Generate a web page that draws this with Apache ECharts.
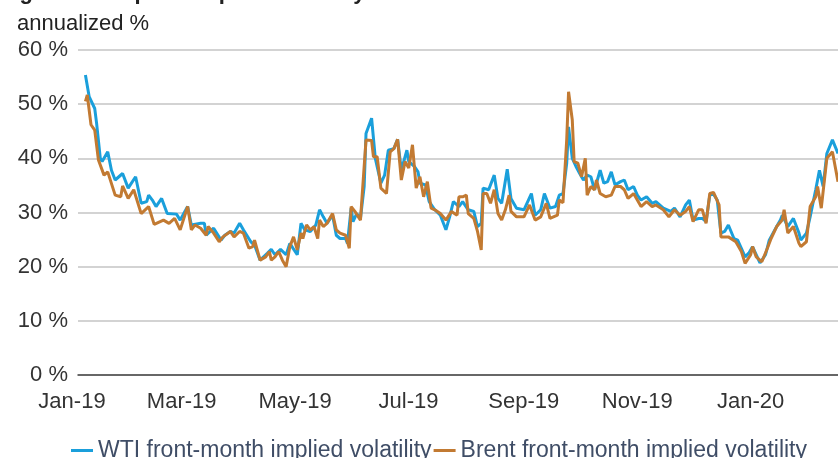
<!DOCTYPE html>
<html>
<head>
<meta charset="utf-8">
<script src="https://cdn.jsdelivr.net/npm/echarts@6/dist/echarts.min.js"></script>
<style>
html,body{margin:0;padding:0;background:#fff;}
#chart{width:838px;height:458px;}
</style>
</head>
<body>
<div id="chart"></div>
<script>
// Days are counted from 2019-01-01
const wtiDays = [7,9,12,13,15,16,19,21,23,27,
 30,34,37,40,41,43,45,48,51,56,
 58,62,64,69,71,72,76,80,82,85,
 87,90,92,96,98,101,105,107,109,112,
 115,117,121,123,125,128,131,133,135,137,
 140,142,144,147,148,150,151,153,155,157,
 158,161,163,166,168,170,173,175,177,180,
 181,184,186,187,190,192,195,198,201,203,
 205,208,210,213,216,218,220,221,224,227,
 229,231,234,236,239,243,247,249,252,254,
 257,260,262,264,266,267,269,271,273,275,
 277,279,281,284,286,288,290,292,295,297,
 299,302,304,306,309,312,314,318,322,324,
 327,330,332,334,337,339,341,343,345,347,
 349,351,353,356,358,360,362,364,366,370,
 373,375,379,381,382,385,388,391,392,395,
 397,400,402,404,406,409,412];
const wtiValues = [55.4,51.4,49.2,46.5,40.0,39.4,41.2,37.8,36.0,37.2,
 34.5,36.6,31.7,32.0,33.2,32.3,31.1,32.6,29.8,29.7,
 28.6,31.1,27.7,28.0,28.0,25.8,27.1,24.9,25.8,26.5,
 26.2,28.0,26.8,24.6,24.0,21.2,22.5,23.2,22.2,23.2,
 22.2,24.3,22.2,28.0,26.8,26.5,27.7,30.5,29.2,28.0,
 29.5,25.8,25.2,25.2,24.3,30.8,28.3,29.8,28.9,34.8,
 44.6,47.4,40.0,35.4,36.9,41.5,41.8,43.5,37.8,41.5,
 39.4,38.5,37.5,35.4,35.1,32.0,30.5,29.5,26.8,29.2,
 32.0,31.1,32.0,30.5,30.2,27.4,28.0,34.5,34.2,36.9,
 32.6,31.7,38.0,32.6,30.8,30.5,33.5,29.5,30.5,33.5,
 30.8,31.1,33.2,33.5,39.1,45.8,40.0,38.5,37.2,36.0,
 36.9,36.6,34.2,37.8,35.4,35.7,37.5,35.1,35.7,36.0,
 34.2,34.8,33.2,32.3,32.9,31.7,32.0,30.8,30.2,30.8,
 29.2,31.4,32.3,28.6,28.9,28.9,28.3,33.2,33.4,32.3,
 26.2,26.5,27.7,25.2,24.9,23.4,21.8,22.5,23.7,20.7,
 22.2,24.9,27.4,28.6,29.5,27.4,28.9,26.2,24.9,26.2,
 29.2,34.2,37.8,34.8,40.9,43.4,40.9];
const brentDays = [7,8,10,12,14,17,19,23,26,27,
 30,33,37,41,44,49,52,55,58,62,
 64,66,69,72,73,76,79,81,85,87,
 90,92,95,97,98,101,104,106,107,109,
 111,113,115,117,119,121,123,124,126,128,
 130,132,133,135,137,140,142,144,147,149,
 150,152,155,158,161,162,164,166,169,171,
 173,175,177,179,181,183,185,187,189,191,
 193,195,198,201,204,207,208,210,212,213,
 216,218,220,221,223,225,227,229,231,233,
 235,236,239,243,246,249,252,255,257,261,
 262,264,266,267,269,270,272,274,276,277,
 279,281,282,284,287,290,292,295,297,299,
 302,304,306,309,312,314,318,321,324,327,
 330,332,334,337,339,341,343,345,348,349,
 353,357,358,360,362,365,366,368,371,374,
 376,379,382,383,385,388,391,392,395,397,
 400,401,403,406,409,412];
const brentValues = [50.5,51.7,46.2,45.2,39.7,36.9,37.5,33.2,32.9,34.9,
 32.6,34.2,29.8,31.1,27.8,28.6,28.0,28.9,26.8,31.1,
 26.8,27.7,27.1,25.8,27.4,26.2,24.6,25.5,26.5,25.5,
 26.5,26.2,23.4,23.7,24.9,21.2,21.8,22.8,21.2,21.8,
 22.8,21.2,20.0,23.7,25.5,23.1,26.2,25.2,27.7,26.8,
 27.4,25.2,28.6,27.4,28.0,29.8,26.8,26.2,25.8,23.4,
 31.1,30.2,28.6,43.4,43.3,40.3,40.3,34.5,33.5,41.2,
 41.8,43.5,36.0,39.4,38.2,42.5,34.5,36.6,32.9,35.7,
 30.8,30.5,29.8,28.6,30.2,29.5,32.9,32.9,33.2,29.8,
 28.9,26.5,23.1,33.5,33.5,31.7,34.2,29.8,28.6,30.5,
 33.2,30.2,29.2,29.2,31.4,28.6,29.2,31.7,28.9,29.5,
 32.3,31.8,43.4,52.3,47.1,39.4,39.1,36.6,40.0,33.2,
 34.8,34.2,36.0,33.5,32.9,33.2,34.8,34.8,34.2,32.6,
 33.5,32.3,31.1,32.0,31.1,31.4,30.5,29.2,30.5,29.5,
 30.2,31.1,28.3,30.5,30.5,28.0,33.5,33.7,31.4,25.5,
 25.5,24.6,24.6,22.8,20.6,22.2,23.7,21.8,20.9,23.4,
 25.2,27.4,28.6,30.5,26.2,27.4,24.3,23.7,24.6,31.1,
 32.9,34.8,30.8,40.0,41.2,35.7];
const tickDates = ['2019-01-01','2019-03-01','2019-05-01','2019-07-01','2019-09-01','2019-11-01','2020-01-01'];
const tickLabels = ['Jan-19','Mar-19','May-19','Jul-19','Sep-19','Nov-19','Jan-20'];
const seriesNames = ['WTI front-month implied volatility','Brent front-month implied volatility'];
const titleText = 'Figure 2: Oil price implied volatility';
const unitText = 'annualized %';

const base = Date.UTC(2019,0,1);
const toDay = s => { const p = s.split('-').map(Number); return Math.round((Date.UTC(p[0],p[1]-1,p[2]) - base)/86400000); };
const tickDays = tickDates.map(toDay);
const labelOf = {};
tickDays.forEach((d,i)=>{ labelOf[d] = tickLabels[i]; });
const zip = (a,b) => a.map((d,i)=>[d,b[i]]);

const FONT = '"Liberation Sans", Arial, sans-serif';
const chart = echarts.init(document.getElementById('chart'), null, {renderer:'canvas'});
chart.setOption({
  animation:false,
  backgroundColor:'#ffffff',
  textStyle:{fontFamily:FONT},
  title:[
    {text:unitText, left:12, top:8, textStyle:{fontFamily:FONT, fontSize:22, fontWeight:'normal', color:'#222'}}
  ],
  graphic:[
    {type:'text', x:0, y:-18, silent:true,
     style:{text:titleText, fontFamily:FONT, fontSize:22, fontWeight:'bold', fill:'#222', textVerticalAlign:'top'}}
  ],
  legend:{
    left:66, top:434, itemWidth:22, itemHeight:3, itemGap:2, icon:'rect',
    textStyle:{fontFamily:FONT, fontSize:23, color:'#3f4d66', padding:[0,0,0,0]},
    data:seriesNames
  },
  grid:[
    {left:78, right:0, top:50, bottom:83},
    {left:72, right:0, top:50, bottom:83}
  ],
  xAxis:[
    {type:'value', gridIndex:0, min:3, max:412,
     axisLine:{show:true, onZero:false, lineStyle:{color:'#444', width:1.5}},
     axisTick:{show:false}, axisLabel:{show:false}, splitLine:{show:false}},
    {type:'value', gridIndex:1, min:0, max:412,
     axisLine:{show:false}, axisTick:{show:false}, splitLine:{show:false},
     axisLabel:{show:true, customValues:tickDays, margin:16, fontSize:22, color:'#333', fontFamily:FONT,
       showMinLabel:true, showMaxLabel:true,
       formatter:v => labelOf[Math.round(v)] || ''}}
  ],
  yAxis:[
    {type:'value', gridIndex:0, min:0, max:60, interval:10,
     axisLine:{show:false}, axisTick:{show:false},
     axisLabel:{formatter:'{value} %', fontSize:22, color:'#333', margin:10, fontFamily:FONT},
     splitLine:{show:true, lineStyle:{color:'#c4c4c4', width:1.5}}},
    {type:'value', gridIndex:1, min:0, max:60, show:false, splitLine:{show:false}}
  ],
  series:[
    {name:seriesNames[0], type:'line', xAxisIndex:0, yAxisIndex:0, showSymbol:false, symbol:'none',
     data:zip(wtiDays,wtiValues), itemStyle:{color:'#1a9fdb'}, lineStyle:{color:'#1a9fdb', width:3}},
    {name:seriesNames[1], type:'line', xAxisIndex:0, yAxisIndex:0, showSymbol:false, symbol:'none',
     data:zip(brentDays,brentValues), itemStyle:{color:'#c27a32'}, lineStyle:{color:'#c27a32', width:3}}
  ]
});
</script>
</body>
</html>
